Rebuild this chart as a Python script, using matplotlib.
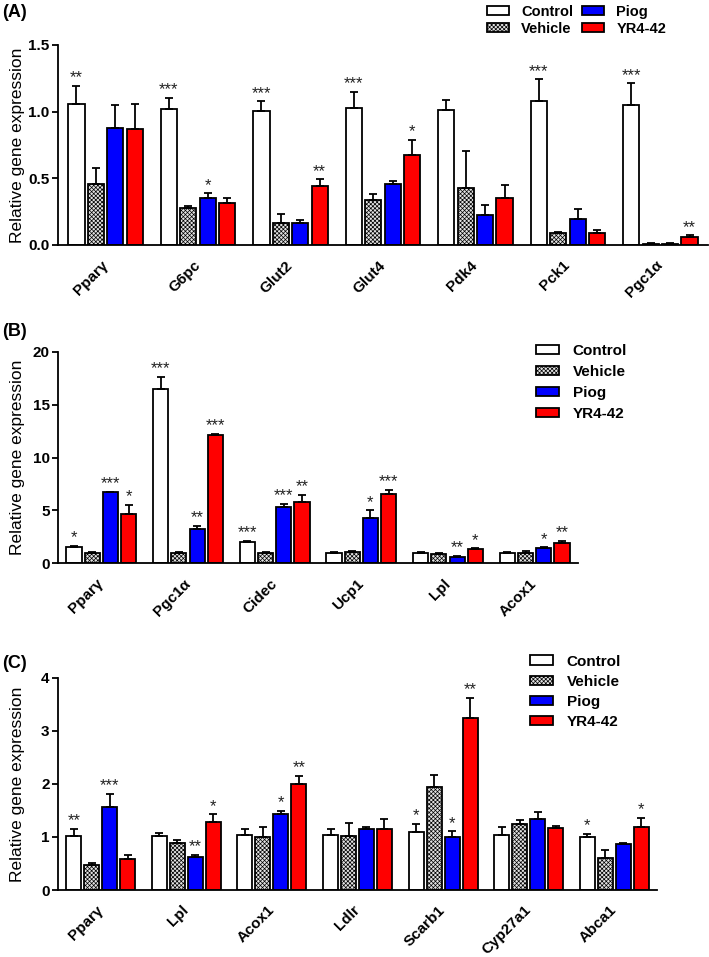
import matplotlib
matplotlib.use("Agg")
import matplotlib.pyplot as plt
import numpy as np
from matplotlib.patches import Patch

plt.rcParams['font.family'] = ['Liberation Sans', 'DejaVu Sans']
plt.rcParams['hatch.color'] = '#a6a6a6'
plt.rcParams['hatch.linewidth'] = 0.5

series_names = ["Control", "Vehicle", "Piog", "YR4-42"]

# ---------- Panel A ----------
genes_a = ["Pparγ", "G6pc", "Glut2", "Glut4", "Pdk4", "Pck1", "Pgc1α"]
ctrl_a = [1.055, 1.017, 1.008, 1.03, 1.01, 1.078, 1.05]
ctrl_a_err = [0.14, 0.088, 0.07, 0.118, 0.078, 0.165, 0.163]
veh_a = [0.455, 0.275, 0.168, 0.335, 0.425, 0.088, 0.010]
veh_a_err = [0.125, 0.015, 0.062, 0.048, 0.283, 0.012, 0.005]
piog_a = [0.877, 0.355, 0.163, 0.46, 0.223, 0.198, 0.008]
piog_a_err = [0.173, 0.033, 0.027, 0.023, 0.08, 0.07, 0.005]
yr_a = [0.87, 0.315, 0.445, 0.678, 0.353, 0.088, 0.058]
yr_a_err = [0.187, 0.035, 0.048, 0.11, 0.095, 0.025, 0.015]
stars_ctrl_a = ["**", "***", "***", "***", "", "***", "***"]
stars_veh_a = ["", "", "", "", "", "", ""]
stars_piog_a = ["", "*", "", "", "", "", ""]
stars_yr_a = ["", "", "**", "*", "", "", "**"]
yticks_a = [0.0, 0.5, 1.0, 1.5]
yticklabels_a = ["0.0", "0.5", "1.0", "1.5"]

# ---------- Panel B ----------
genes_b = ["Pparγ", "Pgc1α", "Cidec", "Ucp1", "Lpl", "Acox1"]
ctrl_b = [1.51, 16.47, 2.05, 0.98, 1.0, 1.0]
ctrl_b_err = [0.13, 1.17, 0.06, 0.06, 0.09, 0.1]
veh_b = [0.98, 0.98, 0.98, 1.04, 0.88, 0.98]
veh_b_err = [0.09, 0.09, 0.06, 0.09, 0.1, 0.15]
piog_b = [6.71, 3.21, 5.29, 4.25, 0.63, 1.42]
piog_b_err = [0.05, 0.35, 0.31, 0.75, 0.06, 0.09]
yr_b = [4.69, 12.13, 5.76, 6.55, 1.32, 1.95]
yr_b_err = [0.85, 0.12, 0.7, 0.38, 0.1, 0.19]
stars_ctrl_b = ["*", "***", "***", "", "", ""]
stars_veh_b = ["", "", "", "", "", ""]
stars_piog_b = ["***", "**", "***", "*", "**", "*"]
stars_yr_b = ["*", "***", "**", "***", "*", "**"]
yticks_b = [0, 5, 10, 15, 20]
yticklabels_b = ["0", "5", "10", "15", "20"]

# ---------- Panel C ----------
genes_c = ["Pparγ", "Lpl", "Acox1", "Ldlr", "Scarb1", "Cyp27a1", "Abca1"]
ctrl_c = [1.024, 1.011, 1.036, 1.036, 1.086, 1.04, 1.005]
ctrl_c_err = [0.126, 0.069, 0.114, 0.114, 0.164, 0.14, 0.05]
veh_c = [0.465, 0.89, 1.005, 1.01, 1.94, 1.237, 0.597]
veh_c_err = [0.05, 0.05, 0.175, 0.246, 0.23, 0.083, 0.15]
piog_c = [1.57, 0.62, 1.43, 1.143, 1.005, 1.344, 0.873]
piog_c_err = [0.24, 0.046, 0.06, 0.047, 0.1, 0.132, 0.017]
yr_c = [0.584, 1.28, 2.0, 1.155, 3.25, 1.168, 1.187]
yr_c_err = [0.082, 0.145, 0.15, 0.185, 0.37, 0.032, 0.173]
stars_ctrl_c = ["**", "", "", "", "*", "", "*"]
stars_veh_c = ["", "", "", "", "", "", ""]
stars_piog_c = ["***", "**", "*", "", "*", "", ""]
stars_yr_c = ["", "*", "**", "", "**", "", "*"]
yticks_c = [0, 1, 2, 3, 4]
yticklabels_c = ["0", "1", "2", "3", "4"]

W, H = 709, 957
fig = plt.figure(figsize=(W / 100, H / 100), dpi=100)

face = ["white", "#e2e2e2", "#0000ff", "#ff0000"]
hatch = [None, "xxxxxxxx", None, None]
step = 0.21
bw = 0.175
LW = 1.3


def px_axes(left, right, top, bottom):
    return fig.add_axes([left / W, 1 - bottom / H, (right - left) / W, (bottom - top) / H])


def panel(ax, genes, vals, errs, stars, ylim, yticks, yticklabels, margin):
    n = len(genes)
    x = np.arange(n)
    for k in range(4):
        xs = x + (k - 1.5) * step
        ax.bar(xs, vals[k], width=bw, color=face[k], edgecolor="black",
               linewidth=LW, hatch=hatch[k], zorder=2)
        ax.errorbar(xs, vals[k], yerr=[np.zeros(n), errs[k]], fmt="none",
                    ecolor="black", elinewidth=1.3, capsize=2.6, capthick=1.3, zorder=3)
        for i in range(n):
            if stars[k][i]:
                ax.annotate(stars[k][i], xy=(xs[i], vals[k][i] + errs[k][i]),
                            xytext=(0, 2.5), textcoords="offset points",
                            ha="center", va="baseline", fontsize=12, color="#222222")
    ax.set_xlim(-0.5 - margin, n - 0.5 + margin)
    ax.set_ylim(*ylim)
    ax.set_yticks(yticks)
    ax.set_yticklabels(yticklabels, fontsize=11, fontweight="bold")
    ax.set_xticks(x)
    ax.set_xticklabels(genes, rotation=45, ha="right", va="center",
                       rotation_mode="anchor", fontsize=11, fontweight="bold")
    ax.tick_params(axis="x", length=0, pad=13)
    ax.tick_params(axis="y", length=4, width=1.3, direction="out", pad=2)
    for s in ["top", "right"]:
        ax.spines[s].set_visible(False)
    for s in ["left", "bottom"]:
        ax.spines[s].set_linewidth(1.3)
    ax.set_ylabel("Relative gene expression", fontsize=12.5)
    bbox_w = ax.get_position().width * W
    ax.yaxis.set_label_coords(-33 / bbox_w, 0.5)


handles = [Patch(facecolor=face[k], edgecolor="black", linewidth=LW, hatch=hatch[k],
                 label=series_names[k]) for k in range(4)]

axA = px_axes(58, 708, 45, 245)
panel(axA, genes_a, [ctrl_a, veh_a, piog_a, yr_a],
      [ctrl_a_err, veh_a_err, piog_a_err, yr_a_err],
      [stars_ctrl_a, stars_veh_a, stars_piog_a, stars_yr_a],
      (0, 1.5), yticks_a, yticklabels_a, 0.015)
fig.legend(handles=handles, ncol=2, loc="upper left",
           bbox_to_anchor=(487 / W, 1 - 5 / H), frameon=False, borderpad=0,
           borderaxespad=0, prop={"weight": "bold", "size": 10.5},
           handlelength=1.5, handleheight=0.55, handletextpad=0.85,
           labelspacing=0.2, columnspacing=0.6)

axB = px_axes(58, 578, 351.7, 563.3)
panel(axB, genes_b, [ctrl_b, veh_b, piog_b, yr_b],
      [ctrl_b_err, veh_b_err, piog_b_err, yr_b_err],
      [stars_ctrl_b, stars_veh_b, stars_piog_b, stars_yr_b],
      (0, 20), yticks_b, yticklabels_b, 0.0)
fig.legend(handles=handles, ncol=1, loc="upper left",
           bbox_to_anchor=(536 / W, 1 - 344 / H), frameon=False, borderpad=0,
           borderaxespad=0, prop={"weight": "bold", "size": 11},
           handlelength=1.5, handleheight=0.55, handletextpad=0.9,
           labelspacing=0.45)

axC = px_axes(58, 657, 677.7, 890)
panel(axC, genes_c, [ctrl_c, veh_c, piog_c, yr_c],
      [ctrl_c_err, veh_c_err, piog_c_err, yr_c_err],
      [stars_ctrl_c, stars_veh_c, stars_piog_c, stars_yr_c],
      (0, 4), yticks_c, yticklabels_c, 0.0)
fig.legend(handles=handles, ncol=1, loc="upper left",
           bbox_to_anchor=(530 / W, 1 - 654.5 / H), frameon=False, borderpad=0,
           borderaxespad=0, prop={"weight": "bold", "size": 11},
           handlelength=1.5, handleheight=0.55, handletextpad=0.9,
           labelspacing=0.41)

fig.text(2 / W, 1 - 12.5 / H, "(A)", fontsize=13, fontweight="bold", va="center", ha="left")
fig.text(2 / W, 1 - 332 / H, "(B)", fontsize=13, fontweight="bold", va="center", ha="left")
fig.text(2 / W, 1 - 663 / H, "(C)", fontsize=13, fontweight="bold", va="center", ha="left")

fig.savefig("out.png", dpi=100)
